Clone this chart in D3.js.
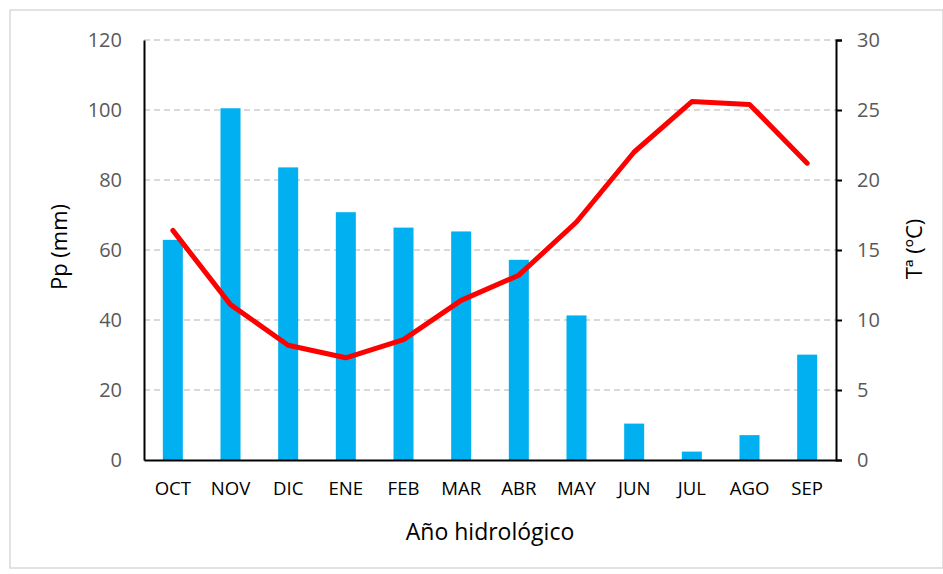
<!DOCTYPE html>
<html><head><meta charset="utf-8">
<script src="https://cdn.jsdelivr.net/npm/d3@7"></script>
<style>body{margin:0;background:#fff}svg{display:block}</style>
</head><body>
<script>
const months = ["OCT","NOV","DIC","ENE","FEB","MAR","ABR","MAY","JUN","JUL","AGO","SEP"];
const precip = [62.9, 100.5, 83.6, 70.8, 66.4, 65.3, 57.2, 41.3, 10.4, 2.4, 7.1, 30.1];
const temp = [16.4, 11.1, 8.2, 7.3, 8.6, 11.4, 13.2, 17.0, 22.0, 25.6, 25.4, 21.2];
const leftTicks = [0,20,40,60,80,100,120];
const rightTicks = [0,5,10,15,20,25,30];

const W=943,H=574;
const svg=d3.select("body").append("svg").attr("width",W).attr("height",H);
svg.append("rect").attr("x",10).attr("y",10).attr("width",W-10).attr("height",H-16)
  .attr("fill","#fff").attr("stroke","#d9d9d9").attr("stroke-width",1.5);

const L=144,R=836,T=40,B=460;
const x=d3.scaleBand().domain(months).range([L,R]);
const yL=d3.scaleLinear().domain([0,120]).range([B,T]);
const yR=d3.scaleLinear().domain([0,30]).range([B,T]);
const font="'Open Sans', 'Noto Sans', sans-serif";

// gridlines
svg.append("g").selectAll("line").data(leftTicks.filter(d=>d>0)).join("line")
  .attr("x1",L).attr("x2",R).attr("y1",d=>yL(d)).attr("y2",d=>yL(d))
  .attr("stroke","#d9d9d9").attr("stroke-width",2).attr("stroke-dasharray","6,4");

// bars
const bw=20;
svg.append("g").selectAll("rect").data(months).join("rect")
  .attr("x",(d)=>x(d)+x.bandwidth()/2-bw/2)
  .attr("width",bw)
  .attr("y",(d,i)=>yL(precip[i]))
  .attr("height",(d,i)=>B-yL(precip[i]))
  .attr("fill","#00b0f0");

// line
const line=d3.line().x((d,i)=>x(months[i])+x.bandwidth()/2).y(d=>yR(d));
svg.append("path").datum(temp).attr("d",line).attr("fill","none")
  .attr("stroke","#ff0000").attr("stroke-width",5).attr("stroke-linecap","round").attr("stroke-linejoin","round");

// axes
const axL=d3.axisLeft(yL).tickValues(leftTicks).tickSize(0).tickPadding(22);
const gL=svg.append("g").attr("transform",`translate(${L},0)`).call(axL);
gL.select(".domain").attr("stroke","#000").attr("stroke-width",2);
gL.selectAll("text").attr("font-family",font).attr("font-size",20).attr("fill","#595959");

const axR=d3.axisRight(yR).tickValues(rightTicks).tickSize(6).tickPadding(15);
const gR=svg.append("g").attr("transform",`translate(${R},0)`).call(axR);
gR.select(".domain").attr("stroke","#000").attr("stroke-width",2);
gR.selectAll("line").attr("stroke","#000").attr("stroke-width",2);
gR.selectAll("text").attr("font-family",font).attr("font-size",20).attr("fill","#595959");

const axB=d3.axisBottom(x).tickSize(0).tickPadding(22);
const gB=svg.append("g").attr("transform",`translate(0,${B})`).call(axB);
gB.select(".domain").attr("stroke","#000").attr("stroke-width",2);
gB.selectAll("text").attr("font-family",font).attr("font-size",18.6).attr("fill","#000");

// titles
svg.append("text").attr("transform","translate(67,247) rotate(-90)").attr("text-anchor","middle")
  .attr("font-family",font).attr("font-size",22).attr("fill","#000").text("Pp (mm)");
svg.append("text").attr("transform","translate(922,249) rotate(-90)").attr("text-anchor","middle")
  .attr("font-family",font).attr("font-size",22).attr("fill","#000").text("Tª (ºC)");
svg.append("text").attr("x",490).attr("y",540).attr("text-anchor","middle")
  .attr("font-family",font).attr("font-size",23).attr("fill","#000").text("Año hidrológico");
</script>
</body></html>
